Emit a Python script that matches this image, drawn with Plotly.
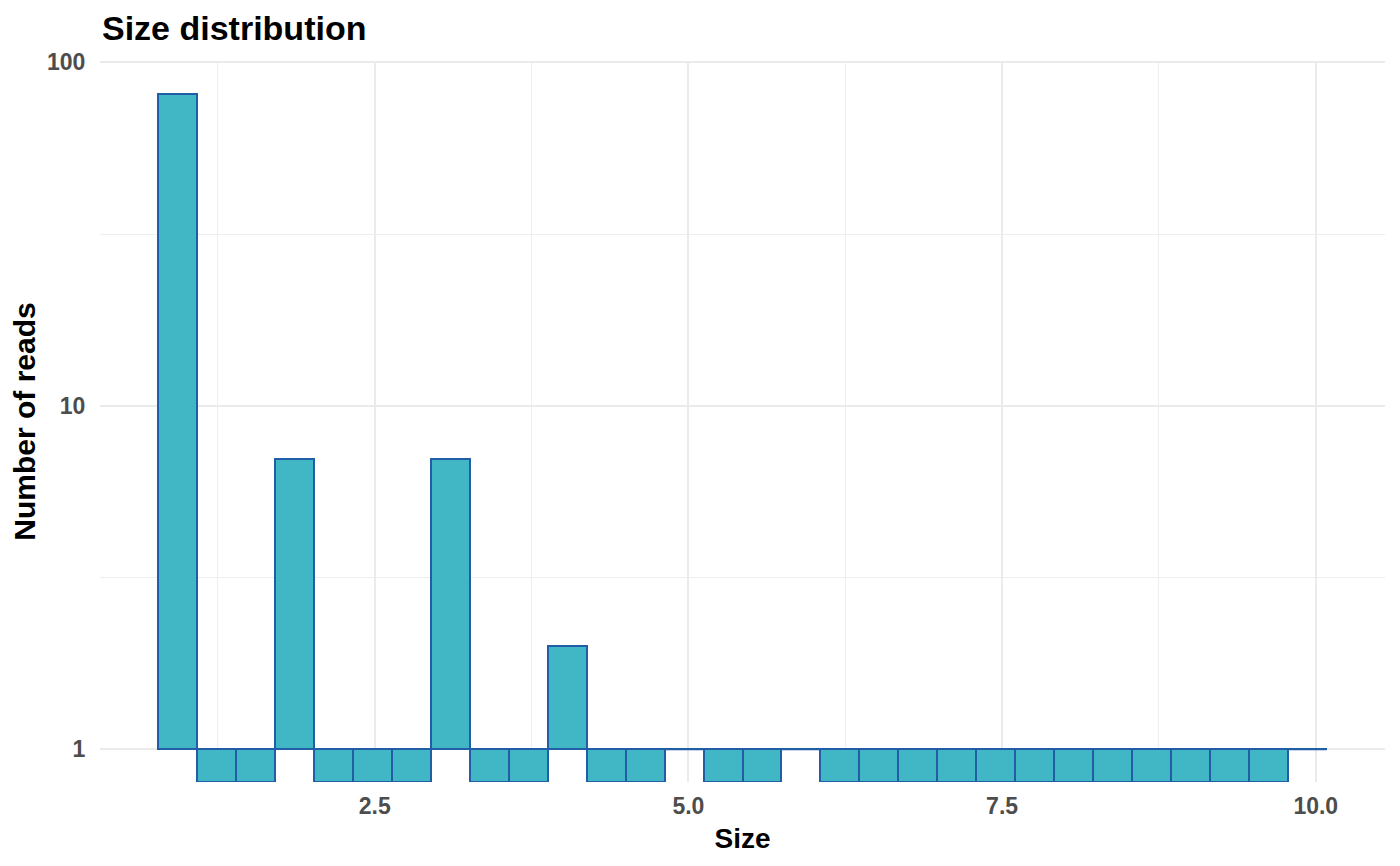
import numpy as np
import plotly.graph_objects as go

# ---- data ----
size_min = 1.0
size_max = 10.0
n_bins = 30
counts = [81, 0, 0, 7, 0, 0, 0, 7, 0, 0, 2, 0, 0, 1, 0, 0, 1,
          0, 0, 0, 0, 0, 0, 0, 0, 0, 0, 0, 0, 1]
x_ticks = [2.5, 5.0, 7.5, 10.0]
x_tick_labels = ["2.5", "5.0", "7.5", "10.0"]
y_ticks = [1, 10, 100]
y_tick_labels = ["1", "10", "100"]

# ggplot2-like binning
bw = (size_max - size_min) / (n_bins - 1)
boundary = bw / 2
shift = np.floor((size_min - boundary) / bw)
origin = boundary + shift * bw
edges = origin + bw * np.arange(n_bins + 1)
centers = (edges[:-1] + edges[1:]) / 2

# axis ranges (ggplot expansion 5%)
xlo, xhi = edges[0], edges[-1]
xpad = 0.05 * (xhi - xlo)
ymax_log = np.log10(max(counts))
ypad = 0.05 * ymax_log
ylo_log, yhi_log = -ypad, ymax_log + ypad
panel_bottom = 10 ** ylo_log

sizes = []
for c in counts:
    if c >= 1:
        sizes.append(c - 1)
    else:
        sizes.append(panel_bottom - 1)

FILL = "#41B6C4"
EDGE = "#225EA8"

fig = go.Figure()
fig.add_trace(go.Bar(
    x=centers, y=sizes, base=[1] * len(counts), width=bw,
    marker=dict(color=FILL, line=dict(color=EDGE, width=2)),
    showlegend=False, hoverinfo="skip",
))
# count==1 bins: zero-height bars drawn as flat outline at 1
ones_x = []
ones_y = []
for i, c in enumerate(counts):
    if c == 1:
        ones_x += [edges[i], edges[i + 1], None]
        ones_y += [1, 1, None]
fig.add_trace(go.Scatter(x=ones_x, y=ones_y, mode="lines",
                         line=dict(color=EDGE, width=2.2),
                         showlegend=False, hoverinfo="skip"))

font = "Liberation Sans, Arial, sans-serif"
# page body has an 8px margin, so the figure is sized to fit inside it
W, H = 1384, 850
fig.update_layout(
    width=W, height=H,
    plot_bgcolor="white", paper_bgcolor="white",
    margin=dict(l=92, r=7, t=53, b=76),
    bargap=0,
    title=dict(text="<b>Size distribution</b>", font=dict(family=font, size=34, color="black"),
               xref="container", x=94 / W, xanchor="left",
               yref="container", y=1 - 20 / H, yanchor="middle"),
    xaxis=dict(range=[xlo - xpad, xhi + xpad], tickmode="array",
               tickvals=x_ticks, ticktext=["<b>%s</b>" % t for t in x_tick_labels],
               tickfont=dict(family=font, size=23, color="#4D4D4D"),
               showgrid=True, gridcolor="#EBEBEB", gridwidth=1.5,
               zeroline=False, showline=False,
               ticks="outside", ticklen=3, tickcolor="rgba(0,0,0,0)",
               minor=dict(tickvals=[1.25, 3.75, 6.25, 8.75], showgrid=True,
                          gridcolor="#EEEEEE", gridwidth=0.9, ticks=""),
               title=dict(text="<b>Size</b>", font=dict(family=font, size=28, color="black"),
                          standoff=10)),
    yaxis=dict(type="log", range=[ylo_log, yhi_log], tickmode="array",
               tickvals=y_ticks, ticktext=["<b>%s</b>" % t for t in y_tick_labels],
               tickfont=dict(family=font, size=23, color="#4D4D4D"),
               showgrid=True, gridcolor="#EBEBEB", gridwidth=1.5,
               zeroline=False, showline=False,
               ticks="outside", ticklen=9, tickcolor="rgba(0,0,0,0)",
               minor=dict(tickvals=[10 ** 0.5, 10 ** 1.5], showgrid=True,
                          gridcolor="#EEEEEE", gridwidth=0.9, ticks=""),
               title=dict(text="<b>Number of reads</b>", font=dict(family=font, size=30, color="black"),
                          standoff=7)),
)

fig.write_html("out.html")
